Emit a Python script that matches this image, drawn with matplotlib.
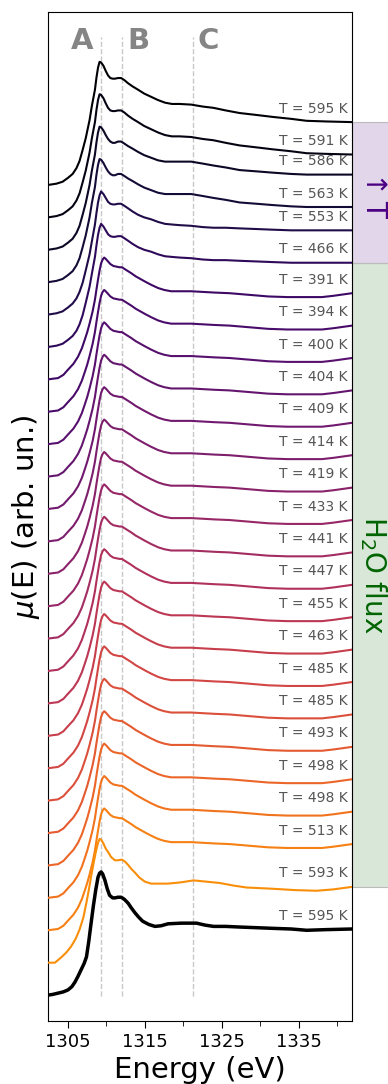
import numpy as np
import matplotlib
matplotlib.use('Agg')
import matplotlib.pyplot as plt
from matplotlib.patches import Rectangle
import matplotlib.transforms as mtransforms

## temperatures of the stacked spectra, top to bottom
temps = [595, 591, 586, 563, 553, 466, 391, 394, 400, 404, 409, 414, 419,
         433, 441, 447, 455, 463, 485, 485, 493, 498, 498, 513, 593]
ref_temp = 595  # black reference spectrum at the bottom
# which spectrum shape each curve uses
curve_shape = ['hot_a', 'hot_a', 'hot_b', 'hot_b', 'hot_c', 'hot_c'] + ['flux'] * 18 + ['o593']

## spectra (normalised mu, pre-edge = 0)
e_hot = [1302.4, 1303.5, 1304.3, 1305.0, 1305.6, 1306.1, 1306.5, 1306.9, 1307.3, 1307.8, 1308.1, 1308.5,
         1308.7, 1308.9, 1309.1, 1309.3, 1309.6, 1309.9, 1310.2, 1310.5, 1310.8, 1311.1, 1311.5, 1311.9,
         1312.3, 1312.8, 1313.4, 1314.1, 1314.9, 1315.8, 1316.7, 1317.6, 1318.5, 1319.5, 1321.0, 1322.5,
         1323.9, 1325.5, 1327.3, 1329.5, 1331.6, 1334.0, 1336.0, 1338.5, 1341.9]
mu_hot_a = [0.00, 0.02, 0.05, 0.11, 0.17, 0.26, 0.37, 0.54, 0.72, 1.00, 1.22, 1.47,
            1.66, 1.81, 1.90, 1.89, 1.84, 1.76, 1.69, 1.65, 1.64, 1.64, 1.65, 1.65,
            1.62, 1.57, 1.52, 1.47, 1.41, 1.36, 1.31, 1.27, 1.25, 1.25, 1.24, 1.21,
            1.19, 1.15, 1.11, 1.08, 1.05, 1.02, 0.99, 0.98, 0.97]
mu_hot_b = [0.00, 0.02, 0.05, 0.11, 0.17, 0.26, 0.37, 0.54, 0.72, 1.00, 1.22, 1.47,
            1.66, 1.81, 1.90, 1.89, 1.84, 1.77, 1.71, 1.67, 1.65, 1.65, 1.67, 1.67,
            1.64, 1.60, 1.56, 1.51, 1.46, 1.42, 1.38, 1.36, 1.36, 1.36, 1.36, 1.33,
            1.30, 1.27, 1.23, 1.21, 1.19, 1.17, 1.16, 1.16, 1.16]
mu_hot_c = [0.00, 0.02, 0.05, 0.11, 0.17, 0.25, 0.35, 0.49, 0.68, 0.93, 1.13, 1.39,
            1.57, 1.73, 1.84, 1.90, 1.86, 1.80, 1.74, 1.71, 1.70, 1.70, 1.71, 1.71,
            1.68, 1.64, 1.59, 1.54, 1.50, 1.47, 1.43, 1.40, 1.39, 1.38, 1.37, 1.35,
            1.34, 1.34, 1.33, 1.32, 1.31, 1.30, 1.30, 1.30, 1.30]
e_flux = [1302.4, 1303.0, 1303.7, 1304.4, 1305.0, 1305.7, 1306.3, 1306.8, 1307.2, 1307.5, 1307.8, 1308.2,
          1308.5, 1308.7, 1308.9, 1309.1, 1309.3, 1309.5, 1309.7, 1309.9, 1310.2, 1310.5, 1310.9, 1311.3,
          1311.7, 1312.0, 1312.4, 1312.8, 1313.2, 1313.8, 1314.4, 1315.0, 1315.8, 1316.7, 1317.5, 1318.4,
          1319.5, 1321.0, 1322.5, 1324.0, 1326.0, 1328.0, 1331.0, 1333.5, 1336.0, 1338.0, 1339.5, 1341.9]
mu_flux = [0.00, 0.01, 0.02, 0.07, 0.15, 0.24, 0.35, 0.48, 0.62, 0.73, 0.86, 1.05,
           1.23, 1.39, 1.54, 1.68, 1.79, 1.85, 1.88, 1.86, 1.82, 1.78, 1.75, 1.74,
           1.73, 1.73, 1.70, 1.67, 1.64, 1.59, 1.55, 1.51, 1.46, 1.41, 1.38, 1.36,
           1.36, 1.36, 1.35, 1.34, 1.33, 1.31, 1.28, 1.27, 1.27, 1.27, 1.29, 1.33]
e_o593 = [1302.4, 1303.3, 1304.1, 1304.8, 1305.4, 1306.0, 1306.5, 1307.0, 1307.4, 1307.7, 1308.0, 1308.3,
          1308.6, 1308.9, 1309.1, 1309.3, 1309.6, 1309.9, 1310.2, 1310.6, 1311.1, 1311.5, 1312.0, 1312.4,
          1312.8, 1313.2, 1313.7, 1314.3, 1315.0, 1315.8, 1316.7, 1318.0, 1319.7, 1321.3, 1323.0, 1324.7,
          1326.5, 1328.2, 1330.0, 1331.7, 1334.5, 1337.3, 1339.4, 1341.9]
mu_o593 = [0.00, 0.00, 0.08, 0.16, 0.25, 0.37, 0.51, 0.70, 0.93, 1.12, 1.33, 1.52,
           1.70, 1.85, 1.91, 1.90, 1.84, 1.76, 1.71, 1.63, 1.58, 1.58, 1.59, 1.56,
           1.51, 1.45, 1.39, 1.31, 1.25, 1.22, 1.22, 1.22, 1.24, 1.27, 1.25, 1.23,
           1.19, 1.16, 1.15, 1.14, 1.12, 1.11, 1.13, 1.17]
e_ref = [1302.4, 1303.0, 1303.7, 1304.4, 1305.0, 1305.5, 1305.9, 1306.3, 1306.7, 1307.1, 1307.4, 1307.7,
         1308.0, 1308.3, 1308.6, 1308.9, 1309.1, 1309.3, 1309.5, 1309.8, 1310.1, 1310.4, 1310.8, 1311.1,
         1311.5, 1311.9, 1312.3, 1312.8, 1313.2, 1313.7, 1314.2, 1314.7, 1315.5, 1316.3, 1317.1, 1318.0,
         1319.7, 1321.7, 1322.8, 1323.9, 1325.5, 1327.3, 1329.5, 1331.6, 1334.0, 1336.0, 1338.5, 1341.9]
mu_ref = [0.00, 0.01, 0.03, 0.05, 0.08, 0.13, 0.20, 0.29, 0.39, 0.49, 0.59, 0.83,
          1.11, 1.38, 1.62, 1.82, 1.88, 1.90, 1.87, 1.77, 1.64, 1.54, 1.50, 1.50,
          1.51, 1.51, 1.48, 1.42, 1.35, 1.27, 1.20, 1.14, 1.09, 1.06, 1.07, 1.10,
          1.11, 1.11, 1.08, 1.06, 1.06, 1.05, 1.04, 1.03, 1.02, 1.00, 1.01, 1.02]

## features marked with dashed lines
feature_names = ['A', 'B', 'C']
feature_energies = [1309.3, 1312.0, 1321.2]

shapes = {'hot_a': (e_hot, mu_hot_a), 'hot_b': (e_hot, mu_hot_b), 'hot_c': (e_hot, mu_hot_c),
          'flux': (e_flux, mu_flux), 'o593': (e_o593, mu_o593)}

offset_step = 0.5
n = len(temps)
colors = plt.cm.inferno(np.linspace(0, 0.75, n))

fig = plt.figure(figsize=(3.88, 10.84), dpi=100)
ax = fig.add_axes([0.1237, 0.0581, 0.7835, 0.9309])

tail_ends = []
for i, (T, key) in enumerate(zip(temps, curve_shape)):
    e, mu = shapes[key]
    off = (n - i) * offset_step
    y = np.array(mu) + off
    ax.plot(e, y, color=colors[i], lw=1.5, zorder=3)
    tail_ends.append(y[-1])
    ax.text(1341.3, y[-1] + 0.1, f'T = {T} K', ha='right', va='bottom', fontsize=10, color='#555555')

# reference spectrum
ax.plot(e_ref, mu_ref, color='black', lw=2.5, zorder=3)
ax.text(1341.3, mu_ref[-1] + 0.1, f'T = {ref_temp} K', ha='right', va='bottom', fontsize=10, color='#555555')

# dashed feature lines and letters
ax.vlines(feature_energies, -0.02, 14.78, colors='#c8c8c8', linestyles='--', lw=1.0, zorder=1)
letter_shift = [-2.5, 2.1, 2.0]
for name, en, dx in zip(feature_names, feature_energies, letter_shift):
    ax.text(en + dx, 14.72, name, ha='center', va='center', fontsize=21, fontweight='bold', color='#858585')

# side bands outside the axes
trans = mtransforms.blended_transform_factory(ax.transAxes, ax.transData)
band_t = Rectangle((1.0, tail_ends[5]), 0.2, tail_ends[0] - tail_ends[5], transform=trans, clip_on=False,
                   facecolor=(75/255, 0, 130/255, 0.16), edgecolor='#bbbbbb', lw=0.8)
band_w = Rectangle((1.0, tail_ends[24]), 0.2, tail_ends[5] - tail_ends[24], transform=trans, clip_on=False,
                   facecolor=(0, 100/255, 0, 0.15), edgecolor='#bbbbbb', lw=0.8)
ax.add_patch(band_t)
ax.add_patch(band_w)
ax.text(1.072, (tail_ends[0] + tail_ends[5]) / 2, r'$\uparrow$T', transform=trans, rotation=-90,
        ha='center', va='center', fontsize=20, color='indigo')
ax.text(1.072, (tail_ends[5] + tail_ends[24]) / 2, 'H$_2$O flux', transform=trans, rotation=-90,
        ha='center', va='center', fontsize=20, color='darkgreen')

ax.set_xlim(1302.4, 1341.9)
ax.set_ylim(-0.40, 15.17)
ax.set_xticks([1305, 1315, 1325, 1335])
ax.set_xticks([1310, 1320, 1330, 1340], minor=True)
ax.tick_params(axis='x', which='major', labelsize=13, length=5)
ax.tick_params(axis='x', which='minor', length=3.5)
ax.set_yticks([])
ax.set_xlabel('Energy (eV)', fontsize=21)
ax.set_ylabel(r'$\mu$(E) (arb. un.)', fontsize=21)

fig.savefig('out.png', dpi=100)
